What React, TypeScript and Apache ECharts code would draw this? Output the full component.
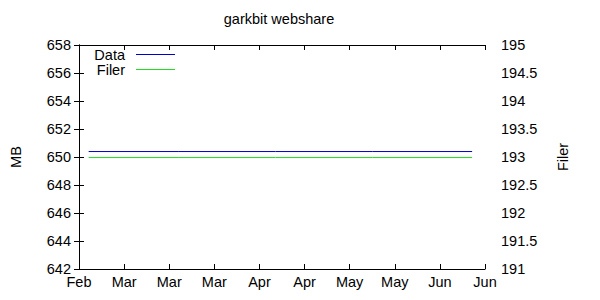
import React, { useEffect, useRef } from "react";
import * as echarts from "echarts";

const axisStart = "2009-02-15";
const tickStepDays = 14;
const tickLabels = ["Feb", "Mar", "Mar", "Mar", "Apr", "Apr", "May", "May", "Jun", "Jun"];
const sampleDates = ["2009-02-18", "2009-03-18", "2009-04-17", "2009-05-17", "2009-06-17"];
const dataMB = [650.39, 650.39, 650.39, 650.39, 650.39];
const filerCount = [192.99, 192.99, 192.99, 192.99, 192.99];

const FONT = "Liberation Sans, Arial, sans-serif";
const DAY = 86400000;
const dayOffset = (d: string) => Math.round((Date.parse(d) - Date.parse(axisStart)) / DAY);
const LINE_ICON = "path://M0,0L40,0L40,1L0,1Z";

export default function App() {
  const ref = useRef<HTMLDivElement>(null);
  useEffect(() => {
    if (!ref.current) return;
    const chart = echarts.init(ref.current, undefined, { renderer: "svg" });
    const xMax = tickStepDays * (tickLabels.length - 1);
    const txt = { color: "#000", fontFamily: FONT, fontSize: 14.5 };
    const line = { show: true, lineStyle: { color: "#000", width: 1 } };
    const tick = { show: true, inside: true, length: 5, lineStyle: { color: "#000", width: 1 } };
    const legendBase = {
      orient: "vertical",
      align: "right",
      right: 425,
      padding: 0,
      icon: LINE_ICON,
      itemWidth: 39,
      itemHeight: 1,
      textStyle: { ...txt, padding: [0, 6, 0, 0] },
    };
    chart.setOption({
      animation: false,
      backgroundColor: "#fff",
      title: {
        text: "garkbit webshare",
        left: 279,
        top: 11,
        padding: 0,
        textAlign: "center",
        textStyle: { ...txt, fontWeight: "normal" },
      },
      legend: [
        { ...legendBase, data: ["Data"], top: 47 },
        { ...legendBase, data: ["Filer"], top: 62 },
      ],
      grid: { left: 73, right: 115, top: 45, bottom: 31, containLabel: false },
      xAxis: [
        {
          type: "value",
          min: 0,
          max: xMax,
          interval: tickStepDays,
          axisLine: line,
          axisTick: tick,
          splitLine: { show: false },
          axisLabel: {
            ...txt,
            margin: 5,
            formatter: (v: number) => tickLabels[Math.round(v / tickStepDays)] ?? "",
          },
        },
        {
          type: "value",
          position: "top",
          min: 0,
          max: xMax,
          interval: tickStepDays,
          axisLine: line,
          axisTick: tick,
          splitLine: { show: false },
          axisLabel: { show: false },
        },
      ],
      yAxis: [
        {
          type: "value",
          min: 642,
          max: 658,
          interval: 2,
          name: "MB",
          nameLocation: "middle",
          nameGap: 56,
          nameRotate: 90,
          nameTextStyle: txt,
          axisLine: line,
          axisTick: tick,
          splitLine: { show: false },
          axisLabel: { ...txt, margin: 8 },
        },
        {
          type: "value",
          position: "right",
          min: 191,
          max: 195,
          interval: 0.5,
          name: "Filer",
          nameLocation: "middle",
          nameGap: 70,
          nameRotate: 90,
          nameTextStyle: txt,
          axisLine: line,
          axisTick: tick,
          splitLine: { show: false },
          axisLabel: { ...txt, margin: 16 },
        },
      ],
      series: [
        {
          name: "Data",
          type: "line",
          xAxisIndex: 0,
          yAxisIndex: 0,
          symbol: "none",
          lineStyle: { color: "#0000cc", width: 1 },
          itemStyle: { color: "#0000cc" },
          data: sampleDates.map((d, i) => [dayOffset(d), dataMB[i]]),
        },
        {
          name: "Filer",
          type: "line",
          xAxisIndex: 0,
          yAxisIndex: 1,
          symbol: "none",
          lineStyle: { color: "#22dd22", width: 1 },
          itemStyle: { color: "#22dd22" },
          data: sampleDates.map((d, i) => [dayOffset(d), filerCount[i]]),
        },
      ],
    });
    return () => chart.dispose();
  }, []);
  return (
    <div
      ref={ref}
      style={{ position: "fixed", left: 0, top: 0, width: 600, height: 300, background: "#fff" }}
    />
  );
}
